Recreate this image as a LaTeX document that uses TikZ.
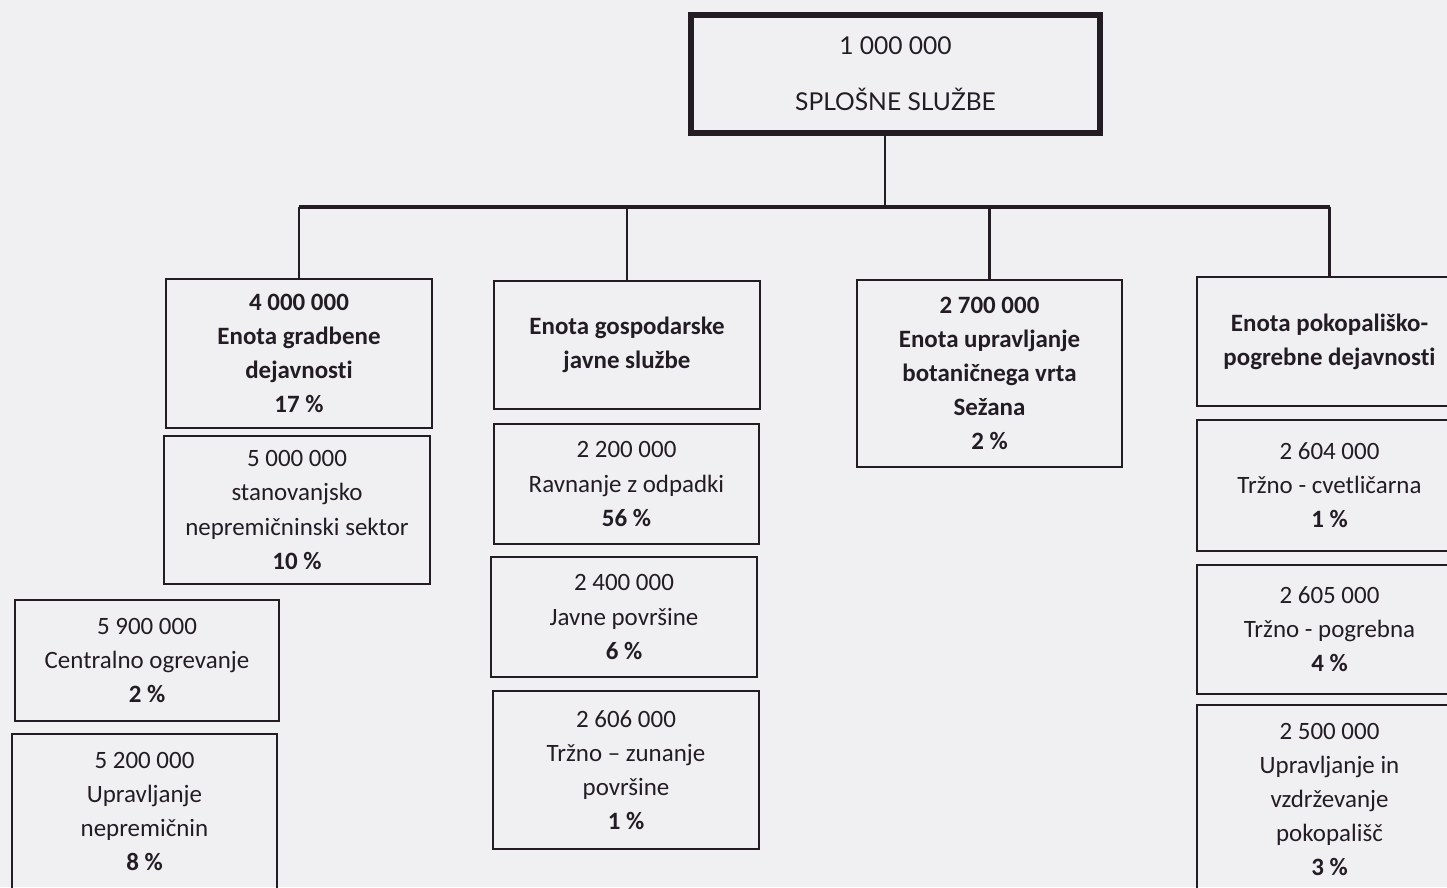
\documentclass[tikz,border=0pt]{standalone}
\usepackage{fontspec}
\setmainfont{Carlito}[Ligatures=NoCommon]
\newfontfamily\topfont{Lato}
\definecolor{paper}{RGB}{240,240,242}
\definecolor{ink}{RGB}{35,28,36}

\tikzset{
    unitbox/.style={draw=ink,line width=1pt,align=center,inner sep=0pt,
        font=\fontsize{14.2}{19.4}\selectfont,text=ink},
    link/.style={draw=ink,line width=1.2pt},
    bus/.style={draw=ink,line width=2.4pt}
}

\begin{document}
\begin{tikzpicture}[x=0.02cm,y=-0.02cm]
    \useasboundingbox[fill=paper] (0,0) rectangle (1447,887);

    % general services
    \node[draw=ink,line width=3.4pt,minimum width=8.18cm,minimum height=2.36cm,align=center,
        font=\topfont\fontsize{14}{20}\selectfont,text=ink] (splosne) at (895.5,74)
        {1 000 000\\[0.42cm]SPLOŠNE SLUŽBE};

    % building unit
    \node[unitbox,minimum width=5.32cm,minimum height=2.98cm] (gradbene) at (299,353.5)
        {\textbf{4 000 000}\\\textbf{Enota gradbene}\\\textbf{dejavnosti}\\\textbf{17 \%}};
    \node[unitbox,minimum width=5.32cm,minimum height=2.96cm] (stanovanjsko) at (297,510)
        {5 000 000\\stanovanjsko\\nepremičninski sektor\\\textbf{10 \%}};
    \node[unitbox,minimum width=5.28cm,minimum height=2.42cm] (ogrevanje) at (147,660.5)
        {5 900 000\\Centralno ogrevanje\\\textbf{2 \%}};
    \node[unitbox,minimum width=5.30cm,minimum height=3.10cm] (nepremicnine) at (144.5,811.5)
        {5 200 000\\Upravljanje\\nepremičnin\\\textbf{8 \%}};

    % public services unit
    \node[unitbox,minimum width=5.32cm,minimum height=2.56cm] (gospodarske) at (627,345)
        {\textbf{Enota gospodarske}\\\textbf{javne službe}};
    \node[unitbox,minimum width=5.30cm,minimum height=2.40cm] (odpadki) at (626.5,484)
        {2 200 000\\Ravnanje z odpadki\\\textbf{56 \%}};
    \node[unitbox,minimum width=5.32cm,minimum height=2.40cm] (povrsine) at (624,617)
        {2 400 000\\Javne površine\\\textbf{6 \%}};
    \node[unitbox,minimum width=5.32cm,minimum height=3.16cm] (zunanje) at (626,770)
        {2 606 000\\Tržno – zunanje\\površine\\\textbf{1 \%}};

    % botanical garden
    \node[unitbox,minimum width=5.30cm,minimum height=3.74cm] (botanicni) at (989.5,373.5)
        {\textbf{2 700 000}\\\textbf{Enota upravljanje}\\\textbf{botaničnega vrta}\\\textbf{Sežana}\\\textbf{2 \%}};

    % cemetery unit
    \node[unitbox,minimum width=5.30cm,minimum height=2.58cm] (pokop) at (1329.5,341.5)
        {\textbf{Enota pokopališko-}\\\textbf{pogrebne dejavnosti}};
    \node[unitbox,minimum width=5.30cm,minimum height=2.62cm] (cvetlicarna) at (1329.5,485.5)
        {2 604 000\\Tržno - cvetličarna\\\textbf{1 \%}};
    \node[unitbox,minimum width=5.30cm,minimum height=2.58cm] (pogrebna) at (1329.5,629.5)
        {2 605 000\\Tržno - pogrebna\\\textbf{4 \%}};
    \node[unitbox,minimum width=5.30cm,minimum height=3.78cm] (pokopalisca) at (1329.5,799.5)
        {2 500 000\\Upravljanje in\\vzdrževanje\\pokopališč\\\textbf{3 \%}};

    % line from general services to the bus
    \coordinate (trunk) at (885,207);
    \draw[link,line width=1.6pt] (trunk |- splosne.south) -- (trunk);

    % bus line
    \draw[bus] (gradbene.north |- trunk) -- (pokop.north |- trunk);

    % drops to the units
    \draw[link] (gradbene.north |- trunk) -- (gradbene.north);
    \draw[link] (gospodarske.north |- trunk) -- (gospodarske.north);
    \draw[link] (botanicni.north |- trunk) -- (botanicni.north);
    \draw[link] (pokop.north |- trunk) -- (pokop.north);
\end{tikzpicture}
\end{document}
